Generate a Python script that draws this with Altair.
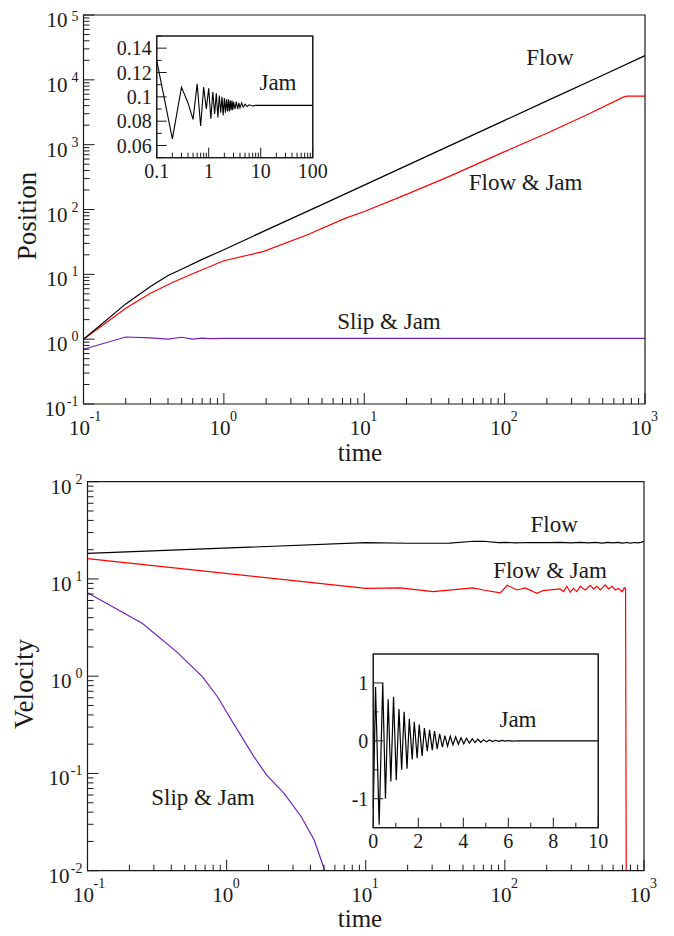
import altair as alt
import pandas as pd

FONT = "Liberation Serif, Times New Roman, Times, DejaVu Serif, serif"
INK = "#1a1a1a"
C_FLOW = "#000000"
C_FJ = "#ff0000"
C_SJ = "#7221bc"

# ---------------- data ----------------
# top panel: Position vs time (log-log)
pos_flow_t = [0.1, 0.2, 0.3, 0.4, 0.5, 0.7, 1, 2, 5, 10, 20, 50, 100, 200, 500, 1000]
pos_flow_p = [1.0, 3.5, 6.5, 9.6, 12, 17, 24, 48, 119, 238, 475, 1185, 2370, 4740, 11800, 23600]

pos_fj_t = [0.1, 0.2, 0.3, 0.43, 0.61, 1, 1.9, 3.9, 7.3, 10, 20, 40, 100, 200, 400, 700, 745, 1000]
pos_fj_p = [1.0, 3.0, 5.1, 7.5, 10.4, 16.2, 22.4, 40.5, 73, 93, 171, 321, 780, 1500, 3000, 5400, 5600, 5600]

pos_sj_t = [0.1, 0.2, 0.3, 0.4, 0.5, 0.6, 0.7, 0.8, 1, 2, 10, 100, 1000]
pos_sj_p = [0.70, 1.08, 1.05, 1.0, 1.07, 1.0, 1.04, 1.02, 1.03, 1.03, 1.03, 1.03, 1.03]

# top inset: Jam position (log time)
jam_pos_t = [0.1, 0.2, 0.3, 0.4, 0.5, 0.6, 0.7, 0.8, 0.9, 1.0,
             1.1, 1.2, 1.3, 1.4, 1.5, 1.6, 1.7, 1.8, 1.9, 2.0,
             2.1, 2.2, 2.3, 2.4, 2.5, 2.6, 2.7, 2.8, 2.9, 3.0,
             3.2, 3.4, 3.6, 3.8, 4.0, 4.3, 4.6, 5.0, 5.5, 6.0, 7.0, 8.0, 100]
jam_pos_x = [0.130, 0.0655, 0.108, 0.095, 0.0815, 0.1107, 0.076, 0.108, 0.090, 0.107,
             0.082, 0.104, 0.086, 0.103, 0.083, 0.101, 0.087, 0.100, 0.085, 0.099,
             0.087, 0.098, 0.088, 0.098, 0.088, 0.097, 0.089, 0.097, 0.089, 0.096,
             0.090, 0.096, 0.090, 0.095, 0.091, 0.095, 0.0915, 0.094, 0.092, 0.0935, 0.0925, 0.093, 0.093]

# bottom panel: Velocity vs time (log-log)
vel_flow_t = [0.1, 10, 20, 40, 60, 70, 90, 100, 120, 150, 200, 250, 300, 350, 400, 450, 500,
              550, 600, 650, 700, 750, 800, 850, 900, 950, 1000]
vel_flow_v = [18.3, 23.6, 23.3, 23.4, 24.4, 24.4, 23.6, 23.8, 23.5, 23.7, 23.6, 23.8, 23.5, 23.8,
              23.5, 23.8, 23.4, 23.8, 23.5, 23.8, 23.4, 23.7, 23.4, 23.7, 23.5, 23.8, 24.3]

vel_fj_t = [0.1, 10, 17.7, 30.5, 59, 70, 92.5, 104, 122, 140, 170, 188, 249, 264, 279, 295, 311,
            329, 348, 378, 411, 434, 459, 485, 527, 557, 589, 622, 658, 695, 722, 737, 745]
vel_fj_v = [16.2, 8.0, 8.1, 7.4, 8.1, 7.7, 7.2, 8.6, 7.7, 8.1, 7.1, 7.6, 7.9, 7.4, 8.4, 7.3, 8.0,
            7.4, 8.4, 7.7, 8.6, 7.9, 8.4, 7.7, 8.7, 7.9, 8.4, 7.7, 8.0, 7.4, 8.1, 8.0, 0.01]

vel_sj_t = [0.1, 0.247, 0.436, 0.669, 0.86, 1.10, 1.57, 1.94, 2.59, 3.44, 4.26, 5.08]
vel_sj_v = [7.2, 3.5, 1.79, 0.99, 0.615, 0.34, 0.149, 0.096, 0.0624, 0.0359, 0.0207, 0.01]

# bottom inset: Jam velocity (linear time)
jam_vel_t = [0.00, 0.10, 0.26, 0.42, 0.54, 0.66, 0.78, 0.90, 1.02, 1.14, 1.26, 1.37, 1.50, 1.60,
             1.73, 1.82, 1.95, 2.04, 2.17, 2.27, 2.40, 2.50, 2.62, 2.72, 2.84, 2.95, 3.07, 3.18,
             3.30, 3.42, 3.54, 3.66, 3.78, 3.90, 4.02, 4.14, 4.27, 4.40, 4.52, 4.65, 4.78, 4.90,
             5.03, 5.16, 5.30, 5.44, 5.58, 5.72, 5.86, 6.00, 6.20, 6.40, 6.70, 10.0]
jam_vel_v = [-1.15, 0.93, -1.45, 1.0, -1.0, 0.72, -0.70, 0.76, -0.68, 0.55, -0.50, 0.50, -0.48, 0.38,
             -0.32, 0.33, -0.30, 0.28, -0.26, 0.22, -0.18, 0.19, -0.16, 0.17, -0.14, 0.12, -0.11, 0.09,
             -0.09, 0.08, -0.07, 0.07, -0.06, 0.055, -0.05, 0.045, -0.04, 0.035, -0.03, 0.028, -0.025, 0.02,
             -0.018, 0.015, -0.013, 0.01, -0.008, 0.007, -0.005, 0.004, -0.003, 0.002, 0.0, 0.0]

# axis tick values and labels
dec_x = [0.1, 1, 10, 100, 1000]
exp_x = ["-1", "0", "1", "2", "3"]
dec_ya = [0.1, 1, 10, 100, 1000, 1e4, 1e5]
exp_ya = ["-1", "0", "1", "2", "3", "4", "5"]
dec_yb = [0.01, 0.1, 1, 10, 100]
exp_yb = ["-2", "-1", "0", "1", "2"]
ia_x = [0.1, 1, 10, 100]
ia_x_lab = ["0.1", "1", "10", "100"]
ia_y = [0.06, 0.08, 0.10, 0.12, 0.14]
ia_y_lab = ["0.06", "0.08", "0.1", "0.12", "0.14"]
ia_y_minor = [0.05, 0.07, 0.09, 0.11, 0.13, 0.15]
ib_x = [0, 2, 4, 6, 8, 10]
ib_x_lab = ["0", "2", "4", "6", "8", "10"]
ib_x_minor = [1, 3, 5, 7, 9]
ib_y = [-1, 0, 1]
ib_y_lab = ["-1", "0", "1"]
ib_y_minor = [-0.5, 0.5]


def minors(decades):
    return [m * d for d in decades[:-1] for m in range(2, 10)]


# ---------------- layout ----------------
W, H = 658, 928
A = dict(x0=75.5, x1=637, yb=396, yt=7)
B = dict(x0=79.5, x1=636, yb=862.7, yt=473.7)
IA = dict(x0=148.7, x1=304.7, yb=149.7, yt=28)
IB = dict(x0=365.3, x1=590.3, yb=819.7, yt=646)

xA = alt.Scale(type="log", domain=[0.1, 1000], range=[A["x0"], A["x1"]], nice=False)
yA = alt.Scale(type="log", domain=[0.1, 1e5], range=[A["yb"], A["yt"]], nice=False)
xB = alt.Scale(type="log", domain=[0.1, 1000], range=[B["x0"], B["x1"]], nice=False)
yB = alt.Scale(type="log", domain=[0.01, 100], range=[B["yb"], B["yt"]], nice=False)
xIA = alt.Scale(type="log", domain=[0.1, 100], range=[IA["x0"], IA["x1"]], nice=False)
yIA = alt.Scale(type="linear", domain=[0.05, 0.15], range=[IA["yb"], IA["yt"]], nice=False, zero=False)
xIB = alt.Scale(type="linear", domain=[0, 10], range=[IB["x0"], IB["x1"]], nice=False, zero=False)
yIB = alt.Scale(type="linear", domain=[-1.5, 1.5], range=[IB["yb"], IB["yt"]], nice=False, zero=False)


def line(ts, vs, xs, ys, color, sw=1.2):
    df = pd.DataFrame({"t": ts, "v": vs})
    return alt.Chart(df).mark_line(color=color, strokeWidth=sw).encode(
        x=alt.X("t:Q", scale=xs, axis=None),
        y=alt.Y("v:Q", scale=ys, axis=None))


def frame(xs, ys, xd, yd, fill=None):
    df = pd.DataFrame({"x0": [xd[0]], "x1": [xd[1]], "y0": [yd[0]], "y1": [yd[1]]})
    if fill:
        mk = alt.Chart(df).mark_rect(stroke=INK, strokeWidth=1.2, fill=fill)
    else:
        mk = alt.Chart(df).mark_rect(stroke=INK, strokeWidth=1.2, fillOpacity=0)
    return mk.encode(x=alt.X("x0:Q", scale=xs, axis=None), x2="x1",
                     y=alt.Y("y0:Q", scale=ys, axis=None), y2="y1")


def xticks(vals, xs, ybase, length):
    return alt.Chart(pd.DataFrame({"v": vals})).mark_rule(color=INK, strokeWidth=1).encode(
        x=alt.X("v:Q", scale=xs, axis=None), y=alt.value(ybase), y2=alt.value(ybase - length))


def yticks(vals, ys, xbase, length):
    return alt.Chart(pd.DataFrame({"v": vals})).mark_rule(color=INK, strokeWidth=1).encode(
        y=alt.Y("v:Q", scale=ys, axis=None), x=alt.value(xbase), x2=alt.value(xbase + length))


def xlog_labels(vals, exps, xs, ybase):
    df = pd.DataFrame({"v": vals, "e": exps})
    base = alt.Chart(df).mark_text(text="10", font=FONT, fontSize=21, color=INK, align="center",
                                   baseline="alphabetic", dx=-4).encode(
        x=alt.X("v:Q", scale=xs, axis=None), y=alt.value(ybase + 31))
    sup = alt.Chart(df).mark_text(font=FONT, fontSize=14, color=INK, align="left",
                                  baseline="alphabetic", dx=6).encode(
        x=alt.X("v:Q", scale=xs, axis=None), y=alt.value(ybase + 17), text="e:N")
    return [base, sup]


def ylog_labels(vals, exps, ys, xbase, top_dy=2):
    df = pd.DataFrame({"v": vals, "e": exps})
    neg = df[df["e"].str.startswith("-")]
    pos = df[~df["e"].str.startswith("-")]
    out = []
    for part, off in ((pos, 16), (neg, 18)):
        out.append(alt.Chart(part).mark_text(text="10", font=FONT, fontSize=21, color=INK, align="right",
                                             baseline="alphabetic", dy=12).encode(
            y=alt.Y("v:Q", scale=ys, axis=None), x=alt.value(xbase - off)))
    inner = df.iloc[:-1]
    last = df.iloc[-1:]
    for part, dy in ((inner, 2), (last, top_dy)):
        out.append(alt.Chart(part).mark_text(font=FONT, fontSize=14, color=INK, align="right",
                                             baseline="alphabetic", dy=dy).encode(
            y=alt.Y("v:Q", scale=ys, axis=None), x=alt.value(xbase - 5), text="e:N"))
    return out


def x_labels(vals, labs, xs, ybase):
    df = pd.DataFrame({"v": vals, "lab": labs})
    return alt.Chart(df).mark_text(font=FONT, fontSize=20, color=INK, align="center",
                                   baseline="alphabetic").encode(
        x=alt.X("v:Q", scale=xs, axis=None), y=alt.value(ybase + 20), text="lab:N")


def y_labels(vals, labs, ys, xbase):
    df = pd.DataFrame({"v": vals, "lab": labs})
    return alt.Chart(df).mark_text(font=FONT, fontSize=20, color=INK, align="right",
                                   baseline="middle", dy=1).encode(
        y=alt.Y("v:Q", scale=ys, axis=None), x=alt.value(xbase - 5), text="lab:N")


def note(x, y, s, xs, ys):
    df = pd.DataFrame({"x": [x], "y": [y], "s": [s]})
    return alt.Chart(df).mark_text(font=FONT, fontSize=23, color=INK).encode(
        x=alt.X("x:Q", scale=xs, axis=None), y=alt.Y("y:Q", scale=ys, axis=None), text="s:N")


def title(s, px, py, angle=0):
    df = pd.DataFrame({"s": [s]})
    if angle:
        mk = alt.Chart(df).mark_text(font=FONT, fontSize=27, color=INK, angle=angle)
    else:
        mk = alt.Chart(df).mark_text(font=FONT, fontSize=25, color=INK)
    return mk.encode(x=alt.value(px), y=alt.value(py), text="s:N")


layers = []

# ---------- top panel ----------
layers += [
    line(pos_sj_t, pos_sj_p, xA, yA, C_SJ),
    line(pos_fj_t, pos_fj_p, xA, yA, C_FJ),
    line(pos_flow_t, pos_flow_p, xA, yA, C_FLOW),
    # inset
    frame(xIA, yIA, [0.1, 100], [0.05, 0.15], fill="white"),
    line(jam_pos_t, jam_pos_x, xIA, yIA, C_FLOW, sw=1.1),
    xticks(ia_x, xIA, IA["yb"], 10),
    xticks(minors(ia_x), xIA, IA["yb"], 5),
    yticks(ia_y, yIA, IA["x0"], 10),
    yticks(ia_y_minor, yIA, IA["x0"], 5),
    x_labels(ia_x, ia_x_lab, xIA, IA["yb"]),
    y_labels(ia_y, ia_y_lab, yIA, IA["x0"]),
    frame(xIA, yIA, [0.1, 100], [0.05, 0.15]),
    note(21.5, 0.1115, "Jam", xIA, yIA),
    # axes
    xticks(dec_x, xA, A["yb"], 11),
    xticks(minors(dec_x), xA, A["yb"], 6),
    yticks(dec_ya, yA, A["x0"], 11),
    yticks(minors(dec_ya), yA, A["x0"], 6),
    frame(xA, yA, [0.1, 1000], [0.1, 1e5]),
]
layers += xlog_labels(dec_x, exp_x, xA, A["yb"])
layers += ylog_labels(dec_ya, exp_ya, yA, A["x0"], top_dy=6)
layers += [
    note(210, 21700, "Flow", xA, yA),
    note(141, 256, "Flow & Jam", xA, yA),
    note(15, 1.84, "Slip & Jam", xA, yA),
    title("Position", 20, 208, angle=270),
    title("time", 352, 445),
]

# ---------- bottom panel ----------
layers += [
    line(vel_sj_t, vel_sj_v, xB, yB, C_SJ),
    line(vel_fj_t, vel_fj_v, xB, yB, C_FJ),
    line(vel_flow_t, vel_flow_v, xB, yB, C_FLOW),
    # inset
    frame(xIB, yIB, [0, 10], [-1.5, 1.5], fill="white"),
    line(jam_vel_t, jam_vel_v, xIB, yIB, C_FLOW, sw=1.2),
    xticks(ib_x, xIB, IB["yb"], 10),
    xticks(ib_x_minor, xIB, IB["yb"], 5),
    yticks(ib_y, yIB, IB["x0"], 10),
    yticks(ib_y_minor, yIB, IB["x0"], 5),
    x_labels(ib_x, ib_x_lab, xIB, IB["yb"]),
    y_labels(ib_y, ib_y_lab, yIB, IB["x0"]),
    frame(xIB, yIB, [0, 10], [-1.5, 1.5]),
    note(6.43, 0.36, "Jam", xIB, yIB),
    # axes
    xticks(dec_x, xB, B["yb"], 11),
    xticks(minors(dec_x), xB, B["yb"], 6),
    yticks(dec_yb, yB, B["x0"], 11),
    yticks(minors(dec_yb), yB, B["x0"], 6),
    frame(xB, yB, [0.1, 1000], [0.01, 100]),
]
layers += xlog_labels(dec_x, exp_x, xB, B["yb"])
layers += ylog_labels(dec_yb, exp_yb, yB, B["x0"])
layers += [
    note(226, 35.9, "Flow", xB, yB),
    note(211, 12.1, "Flow & Jam", xB, yB),
    note(0.676, 0.056, "Slip & Jam", xB, yB),
    title("Velocity", 17, 676, angle=270),
    title("time", 352, 911),
]

chart = (
    alt.layer(*layers)
    .resolve_scale(x="independent", y="independent")
    .properties(width=W, height=H, autosize=alt.AutoSizeParams(type="none"), padding=0,
                background="white")
    .configure_view(stroke="transparent")
)

chart.save("out.html", embed_options={"renderer": "svg", "actions": False})
